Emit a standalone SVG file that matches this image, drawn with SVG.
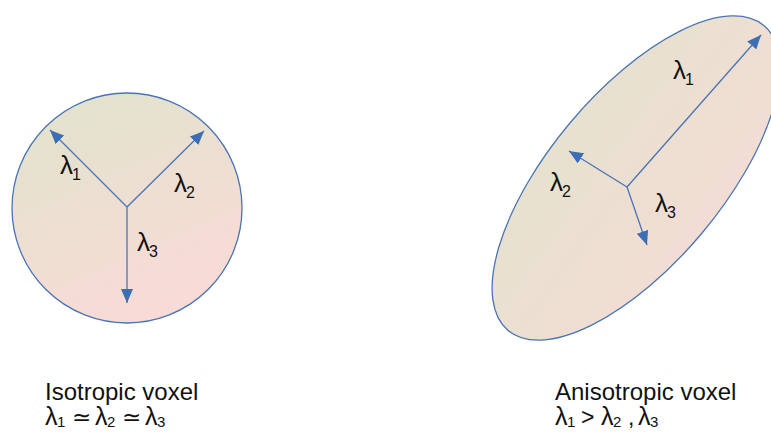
<svg xmlns="http://www.w3.org/2000/svg" width="771" height="433" viewBox="0 0 771 433">
<style>
.shape{stroke:#4a74b4;stroke-width:1.3}
.arr{stroke:#4a74b4;stroke-width:1.3;fill:none;marker-end:url(#ah)}
text{font-family:"Liberation Sans",Arial,sans-serif;fill:#111}
.l{font-size:26px}
.c{font-size:25px}
.o{font-size:23px}
.s{font-size:16px}
.t{font-size:15px}
.cap{font-size:24px}
</style>
<defs>
<linearGradient id="g1" x1="0" y1="0" x2="0.45" y2="1">
<stop offset="0" stop-color="#dfe4cc"/>
<stop offset="1" stop-color="#f8dbd6"/>
</linearGradient>
<linearGradient id="g2" gradientUnits="userSpaceOnUse" x1="634" y1="14" x2="660" y2="343">
<stop offset="0" stop-color="#e2e3cd"/>
<stop offset="1" stop-color="#f7dbd6"/>
</linearGradient>
<marker id="ah" markerUnits="userSpaceOnUse" markerWidth="14" markerHeight="12" viewBox="0 0 14 12" refX="14" refY="6" orient="auto">
<path d="M0,0 L14,6 L0,12 Z" fill="#3d6db3"/>
</marker>
</defs>
<g id="isotropic">
<circle class="shape" cx="127" cy="208" r="115" fill="url(#g1)"/>
</g>
<g id="anisotropic">
<ellipse class="shape" cx="636" cy="178" rx="199" ry="86" transform="rotate(-50 636 178)" fill="url(#g2)"/>
</g>
<g id="connectors">
<line class="arr" x1="127" y1="207" x2="50" y2="130"/>
<line class="arr" x1="127" y1="207" x2="204" y2="131"/>
<line class="arr" x1="127" y1="207" x2="127" y2="303"/>
<line class="arr" x1="627" y1="187" x2="761" y2="35"/>
<line class="arr" x1="627" y1="187" x2="569" y2="151"/>
<line class="arr" x1="627" y1="187" x2="647" y2="245"/>
</g>
<g id="labels">
<text x="60" y="174"><tspan class="l">λ</tspan><tspan class="s" x="72" y="180">1</tspan></text>
<text x="174" y="192"><tspan class="l">λ</tspan><tspan class="s" x="186" y="198">2</tspan></text>
<text x="137" y="251"><tspan class="l">λ</tspan><tspan class="s" x="149" y="257">3</tspan></text>
<text x="673" y="79"><tspan class="l">λ</tspan><tspan class="s" x="685" y="85">1</tspan></text>
<text x="550" y="191"><tspan class="l">λ</tspan><tspan class="s" x="562" y="197">2</tspan></text>
<text x="655" y="212"><tspan class="l">λ</tspan><tspan class="s" x="667" y="218">3</tspan></text>
</g>
<g id="caption-iso">
<text class="cap" x="45" y="400">Isotropic voxel</text>
<text x="45" y="425"><tspan class="c">λ</tspan><tspan class="t" x="57" y="427">1</tspan><tspan class="o" x="72" y="425">≃</tspan><tspan class="c" x="95">λ</tspan><tspan class="t" x="107" y="427">2</tspan><tspan class="o" x="122" y="425">≃</tspan><tspan class="c" x="145">λ</tspan><tspan class="t" x="157" y="427">3</tspan></text>
</g>
<g id="caption-aniso">
<text class="cap" x="555" y="400">Anisotropic voxel</text>
<text x="555" y="425"><tspan class="c">λ</tspan><tspan class="t" x="567" y="427">1</tspan><tspan class="o" x="581" y="425">&gt;</tspan><tspan class="c" x="601">λ</tspan><tspan class="t" x="613" y="427">2</tspan><tspan class="o" x="628" y="425">,</tspan><tspan class="c" x="638">λ</tspan><tspan class="t" x="650" y="427">3</tspan></text>
</g>
</svg>
